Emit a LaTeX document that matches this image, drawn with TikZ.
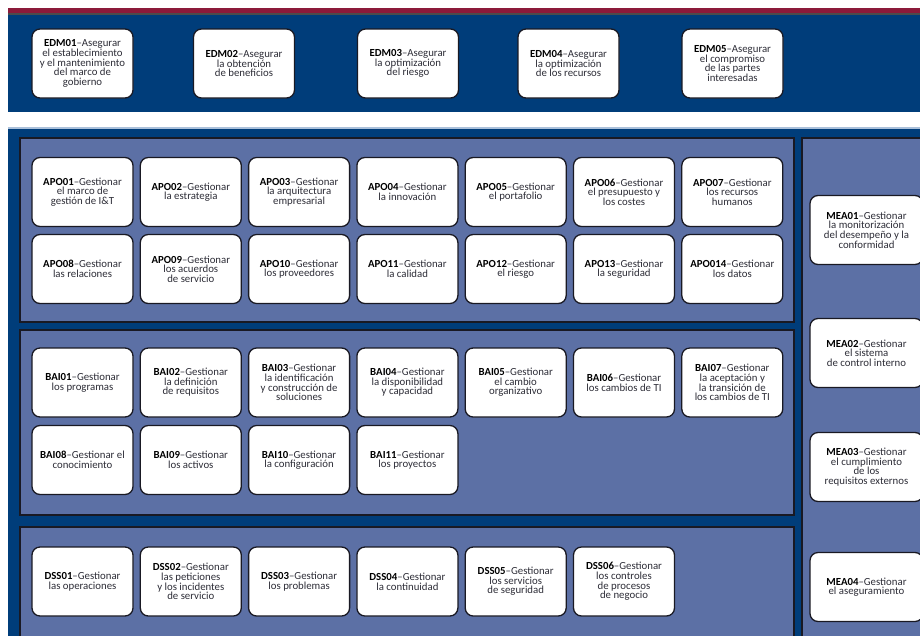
\documentclass[tikz,border=0pt]{standalone}
\usepackage{fontspec}
\setmainfont{Carlito}
\definecolor{navy}{RGB}{0,61,122}
\definecolor{panelc}{RGB}{92,112,165}
\definecolor{maroon}{RGB}{140,26,58}
\definecolor{bodytxt}{RGB}{45,45,55}
\definecolor{edge}{RGB}{25,25,35}
\definecolor{lightline}{RGB}{170,192,218}
\newcommand{\cd}[1]{\textcolor{black}{\textbf{#1}}}
\tikzset{
  proc/.style={draw=edge, line width=1.3pt, fill=white, rounded corners=8pt,
    minimum width=101pt, minimum height=69pt, inner sep=1pt, align=center,
    text=bodytxt, font=\fontsize{10.8}{9.6}\selectfont},
  meabox/.style={proc, minimum width=113pt},
  panel/.style={draw=edge, line width=1.5pt, fill=panelc}
}
\begin{document}
\begin{tikzpicture}[x=1pt,y=-1pt]
\useasboundingbox (0,0) rectangle (920,635);
\clip (0,0) rectangle (920,635);
\fill[white] (0,0) rectangle (920,635);
% top bands
\fill[maroon] (8,8) rectangle (925,13);
\fill[black!70] (8,13) rectangle (925,15);
\fill[navy] (8,15) rectangle (925,112);
\fill[lightline] (8,127) rectangle (925,128.5);
\fill[navy] (8,128.5) rectangle (925,640);
% panels
\draw[panel] (20,138) rectangle (794,322);
\draw[panel] (20,330) rectangle (794,515);
\draw[panel] (20,527) rectangle (794,645);
\draw[panel] (802,138) rectangle (930,645);
% EDM
\node[proc] (edm01) at (82.5,63.5) {\cd{EDM01}–Asegurar\\el establecimiento\\y el mantenimiento\\del marco de\\gobierno};
\node[proc] (edm02) at (244,63.5) {\cd{EDM02}–Asegurar\\la obtención\\de beneficios};
\node[proc] (edm03) at (408,63.5) {\cd{EDM03}–Asegurar\\la optimización\\del riesgo};
\node[proc] (edm04) at (568.5,63.5) {\cd{EDM04}–Asegurar\\la optimización\\de los recursos};
\node[proc] (edm05) at (732.5,63.5) {\cd{EDM05}–Asegurar\\el compromiso\\de las partes\\interesadas};
% APO row 1
\node[proc] (apo01) at (82.5,192) {\cd{APO01}–Gestionar\\el marco de\\gestión de I\&T};
\node[proc] (apo02) at (190.8,192) {\cd{APO02}–Gestionar\\la estrategia};
\node[proc] (apo03) at (299.1,192) {\cd{APO03}–Gestionar\\la arquitectura\\empresarial};
\node[proc] (apo04) at (407.4,192) {\cd{APO04}–Gestionar\\la innovación};
\node[proc] (apo05) at (515.7,192) {\cd{APO05}–Gestionar\\el portafolio};
\node[proc] (apo06) at (624,192) {\cd{APO06}–Gestionar\\el presupuesto y\\los costes};
\node[proc] (apo07) at (732.3,192) {\cd{APO07}–Gestionar\\los recursos\\humanos};
% APO row 2
\node[proc] (apo08) at (82.5,269) {\cd{APO08}–Gestionar\\las relaciones};
\node[proc] (apo09) at (190.8,269) {\cd{APO09}–Gestionar\\los acuerdos\\de servicio};
\node[proc] (apo10) at (299.1,269) {\cd{APO10}–Gestionar\\los proveedores};
\node[proc] (apo11) at (407.4,269) {\cd{APO11}–Gestionar\\la calidad};
\node[proc] (apo12) at (515.7,269) {\cd{APO12}–Gestionar\\el riesgo};
\node[proc] (apo13) at (624,269) {\cd{APO13}–Gestionar\\la seguridad};
\node[proc] (apo14) at (732.3,269) {\cd{APO014}–Gestionar\\los datos};
% BAI row 1
\node[proc] (bai01) at (82.5,382.5) {\cd{BAI01}–Gestionar\\los programas};
\node[proc] (bai02) at (190.8,382.5) {\cd{BAI02}–Gestionar\\la definición\\de requisitos};
\node[proc] (bai03) at (299.1,382.5) {\cd{BAI03}–Gestionar\\la identificación\\y construcción de\\soluciones};
\node[proc] (bai04) at (407.4,382.5) {\cd{BAI04}–Gestionar\\la disponibilidad\\y capacidad};
\node[proc] (bai05) at (515.7,382.5) {\cd{BAI05}–Gestionar\\el cambio\\organizativo};
\node[proc] (bai06) at (624,382.5) {\cd{BAI06}–Gestionar\\los cambios de TI};
\node[proc] (bai07) at (732.3,382.5) {\cd{BAI07}–Gestionar\\la aceptación y\\la transición de\\los cambios de TI};
% BAI row 2
\node[proc] (bai08) at (82.5,460) {\cd{BAI08}–Gestionar el\\conocimiento};
\node[proc] (bai09) at (190.8,460) {\cd{BAI09}–Gestionar\\los activos};
\node[proc] (bai10) at (299.1,460) {\cd{BAI10}–Gestionar\\la configuración};
\node[proc] (bai11) at (407.4,460) {\cd{BAI11}–Gestionar\\los proyectos};
% DSS
\node[proc] (dss01) at (82.5,581.5) {\cd{DSS01}–Gestionar\\las operaciones};
\node[proc] (dss02) at (190.8,581.5) {\cd{DSS02}–Gestionar\\las peticiones\\y los incidentes\\de servicio};
\node[proc] (dss03) at (299.1,581.5) {\cd{DSS03}–Gestionar\\los problemas};
\node[proc] (dss04) at (407.4,581.5) {\cd{DSS04}–Gestionar\\la continuidad};
\node[proc] (dss05) at (515.7,581.5) {\cd{DSS05}–Gestionar\\los servicios\\de seguridad};
\node[proc] (dss06) at (624,581.5) {\cd{DSS06}–Gestionar\\los controles\\de procesos\\de negocio};
% MEA
\node[meabox] (mea01) at (866.5,230) {\cd{MEA01}–Gestionar\\la monitorización\\del desempeño y la\\conformidad};
\node[meabox] (mea02) at (866.5,353) {\cd{MEA02}–Gestionar\\el sistema\\de control interno};
\node[meabox] (mea03) at (866.5,467) {\cd{MEA03}–Gestionar\\el cumplimiento\\de los\\requisitos externos};
\node[meabox] (mea04) at (866.5,587) {\cd{MEA04}–Gestionar\\el aseguramiento};
\end{tikzpicture}
\end{document}
